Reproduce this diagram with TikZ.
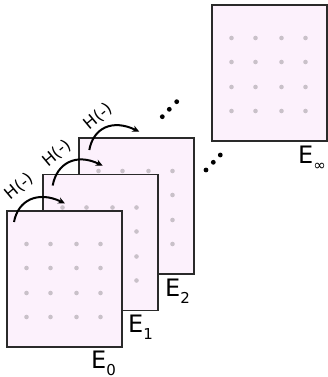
\documentclass[tikz,border=0pt]{standalone}
\usepackage{fontspec}
\setmainfont{DejaVu Sans}
\usetikzlibrary{arrows.meta,calc}
\definecolor{boxfill}{HTML}{FCF1FC}
\definecolor{boxline}{HTML}{2A2A2A}
\definecolor{dotgray}{HTML}{C9C1C9}
\tikzset{
 sheet/.style={draw=boxline, line width=1.1pt, fill=boxfill, minimum width=115pt, minimum height=136pt, anchor=north west, inner sep=0pt, outer sep=0pt},
 hop/.style={line width=2pt, -{Stealth[length=7pt,width=6.5pt]}},
 hlabel/.style={font=\fontsize{16.5}{16.5}\selectfont, rotate=40, inner sep=0pt},
 elabel/.style={font=\fontsize{24}{24}\selectfont, anchor=base west, inner sep=0pt},
 gap/.style={fill=black, circle, inner sep=0pt, minimum size=4.8pt}
}
\newcommand{\gridpts}[1]{\foreach \cx in {19.5,43.5,69.5,93.5}{\foreach \cy in {33,57,82,106}{\fill[dotgray] ($(#1.north west)+(\cx,\cy)$) circle (2.3pt);}}}
\newcommand{\sublabel}[1]{\raisebox{-7pt}{\fontsize{15}{15}\selectfont #1}}
\begin{document}
\begin{tikzpicture}[x=1pt,y=-1pt]
\useasboundingbox (0,0) rectangle (327,377);
\node[sheet] (Einf) at (212,5) {};
\gridpts{Einf}
\node[sheet] (E2) at (79,138) {};
\gridpts{E2}
\node[sheet] (E1) at (43,174.5) {};
\gridpts{E1}
\node[sheet] (E0) at (7,211) {};
\gridpts{E0}
\node[elabel] (L0) at ($(E0.south east)+(-31,21)$) {E\sublabel{0}};
\node[elabel] (L1) at ($(E1.south east)+(-30,22)$) {E\sublabel{1}};
\node[elabel] (L2) at ($(E2.south east)+(-29,22.5)$) {E\sublabel{2}};
\node[elabel] (Linf) at ($(Einf.south east)+(-29,22)$) {E\sublabel{∞}};
\coordinate (a0) at ($(E0.north west)+(7,11)$);
\coordinate (b0) at ($(E1.north west)+(22,29)$);
\coordinate (a1) at ($(E1.north west)+(9.7,11)$);
\coordinate (b1) at ($(E2.north west)+(23.7,27.7)$);
\coordinate (a2) at ($(E2.north west)+(10.3,12)$);
\coordinate (b2) at ($(E2.north west)+(60.3,-6.3)$);
\draw[hop] (a0) .. controls +(4,-22) and +(-27,-13) .. (b0);
\draw[hop] (a1) .. controls +(4,-22) and +(-27,-13) .. (b1);
\draw[hop] (a2) .. controls +(4,-22) and +(-27,-13) .. (b2);
\node[hlabel] (h0) at (19.5,186.5) {H(-)};
\node[hlabel] (h1) at (57,153) {H(-)};
\node[hlabel] (h2) at (98.5,116.5) {H(-)};
\node[gap] (d1) at (162.3,116.7) {};
\node[gap] (d2) at (169.3,109.3) {};
\node[gap] (d3) at (176.7,101.7) {};
\node[gap] (d4) at (206,170) {};
\node[gap] (d5) at (213.3,162.3) {};
\node[gap] (d6) at (220.3,155) {};
\end{tikzpicture}
\end{document}
